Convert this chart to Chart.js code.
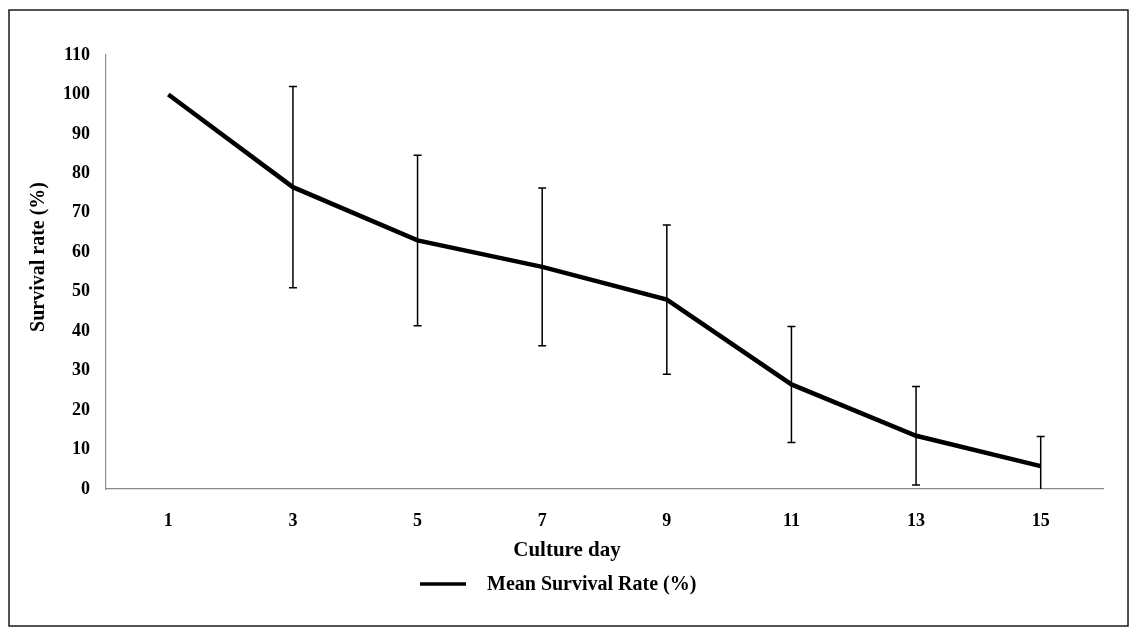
<!DOCTYPE html>
<html>
<head>
<meta charset="utf-8">
<script src="https://cdn.jsdelivr.net/npm/chart.js@4.4.1/dist/chart.umd.min.js"></script>
<style>
  html, body { margin: 0; padding: 0; background: #ffffff; }
  #wrap { width: 1135px; height: 630px; position: relative; }
</style>
</head>
<body>
<div id="wrap"><canvas id="c" width="1135" height="630"></canvas></div>
<script>
// ---- Data ----
const cultureDays = ['1', '3', '5', '7', '9', '11', '13', '15'];
const meanSurvival = [100, 76.5, 63, 56.3, 48, 26.5, 13.5, 5.8];
const survivalError = [0, 25.5, 21.6, 20, 18.9, 14.7, 12.5, 7.5];
const yTickValues = [0, 10, 20, 30, 40, 50, 60, 70, 80, 90, 100, 110];
const seriesLabel = 'Mean Survival Rate (%)';
const xTitle = 'Culture day';
const yTitle = 'Survival rate (%)';

const SERIF = '"Liberation Serif", "DejaVu Serif", serif';

const frameBorder = {
  id: 'frameBorder',
  beforeDraw(chart) {
    const ctx = chart.ctx;
    ctx.save();
    ctx.fillStyle = '#ffffff';
    ctx.fillRect(0, 0, chart.width, chart.height);
    ctx.strokeStyle = '#1a1a1a';
    ctx.lineWidth = 1.5;
    ctx.strokeRect(9, 10, 1119, 616);
    ctx.restore();
  }
};

const errorBars = {
  id: 'errorBars',
  afterDatasetsDraw(chart) {
    const ctx = chart.ctx;
    const xs = chart.scales.x, ys = chart.scales.y;
    const area = chart.chartArea;
    ctx.save();
    ctx.beginPath();
    ctx.rect(area.left, area.top - 10, area.right - area.left, area.bottom - area.top + 10);
    ctx.clip();
    ctx.strokeStyle = '#000000';
    ctx.lineWidth = 1.5;
    meanSurvival.forEach((m, i) => {
      const e = survivalError[i];
      if (!e) return;
      const x = xs.getPixelForValue(i);
      const yt = ys.getPixelForValue(m + e);
      const yb = ys.getPixelForValue(m - e);
      ctx.beginPath();
      ctx.moveTo(x, yt); ctx.lineTo(x, yb);
      ctx.moveTo(x - 4, yt); ctx.lineTo(x + 4, yt);
      ctx.moveTo(x - 4, yb); ctx.lineTo(x + 4, yb);
      ctx.stroke();
    });
    ctx.restore();
  }
};

const titlesAndLegend = {
  id: 'titlesAndLegend',
  afterDraw(chart) {
    const ctx = chart.ctx;
    const ds = chart.data.datasets[0];
    ctx.save();
    ctx.fillStyle = '#000000';
    ctx.textBaseline = 'middle';
    ctx.textAlign = 'center';
    // x axis title
    ctx.font = 'bold 21px ' + SERIF;
    ctx.fillText(xTitle, 567, 551);
    // y axis title
    ctx.save();
    ctx.translate(39, 257);
    ctx.rotate(-Math.PI / 2);
    ctx.font = 'bold 20px ' + SERIF;
    ctx.fillText(yTitle, 0, 0);
    ctx.restore();
    // legend
    ctx.strokeStyle = ds.borderColor;
    ctx.lineWidth = 3.5;
    ctx.beginPath();
    ctx.moveTo(420, 584);
    ctx.lineTo(466, 584);
    ctx.stroke();
    ctx.font = 'bold 20px ' + SERIF;
    ctx.textAlign = 'left';
    ctx.fillText(ds.label, 487, 585);
    ctx.restore();
  }
};

new Chart(document.getElementById('c'), {
  type: 'line',
  data: {
    labels: cultureDays,
    datasets: [{
      label: seriesLabel,
      data: meanSurvival,
      borderColor: '#000000',
      backgroundColor: '#000000',
      borderWidth: 4.5,
      pointRadius: 0,
      tension: 0,
      fill: false
    }]
  },
  options: {
    responsive: false,
    animation: false,
    layout: { padding: { left: 0, top: 55, right: 32, bottom: 66 } },
    plugins: {
      legend: { display: false },
      tooltip: { enabled: false }
    },
    scales: {
      x: {
        type: 'category',
        offset: true,
        grid: { display: false, drawTicks: false },
        border: { display: true, color: '#8c8c8c', width: 1.2 },
        ticks: {
          color: '#000000',
          padding: 22,
          font: { family: SERIF, size: 18, weight: 'bold' }
        },
        title: { display: false, text: xTitle },
        afterFit(scale) { scale.height = 75; }
      },
      y: {
        min: 0,
        max: 110,
        afterBuildTicks(scale) { scale.ticks = yTickValues.map(v => ({ value: v })); },
        grid: { display: false, drawTicks: false },
        border: { display: true, color: '#8c8c8c', width: 1.2 },
        ticks: {
          color: '#000000',
          padding: 16,
          font: { family: SERIF, size: 18, weight: 'bold' }
        },
        title: { display: false, text: yTitle },
        afterFit(scale) { scale.width = 106; }
      }
    }
  },
  plugins: [frameBorder, errorBars, titlesAndLegend]
});
</script>
</body>
</html>
